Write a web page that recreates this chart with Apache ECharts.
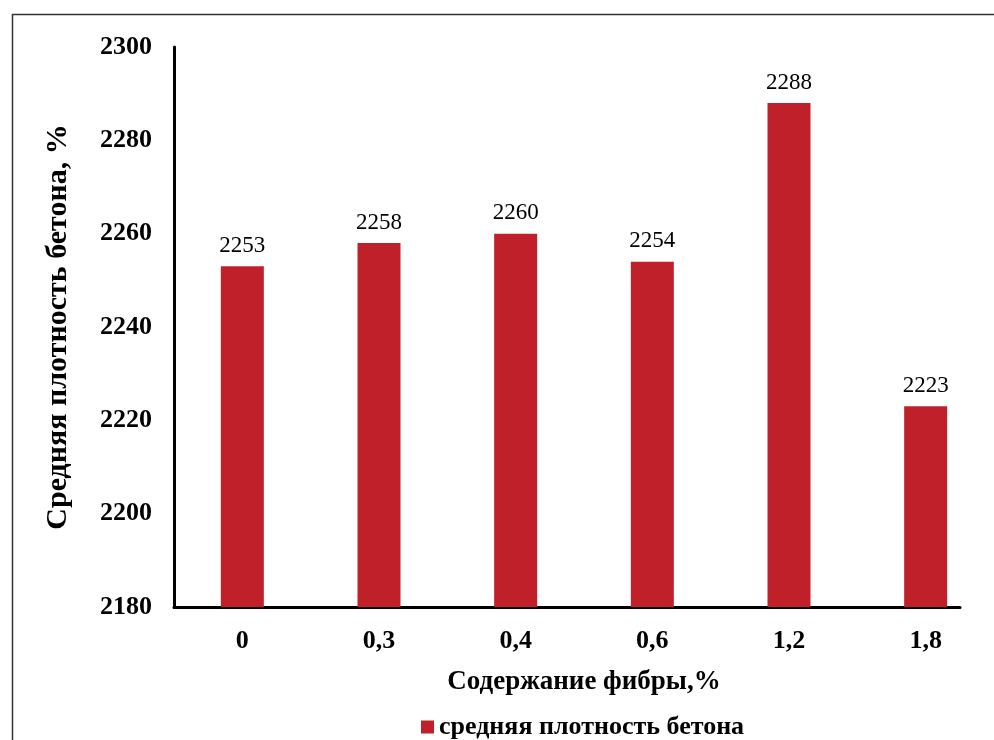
<!DOCTYPE html>
<html>
<head>
<meta charset="utf-8">
<script src="https://cdn.jsdelivr.net/npm/echarts@6/dist/echarts.min.js"></script>
<style>html,body{margin:0;padding:0;background:#fff}#c{width:994px;height:740px}</style>
</head>
<body>
<div id="c"></div>
<script>
const categories = ['0', '0,3', '0,4', '0,6', '1,2', '1,8'];
const density = [2253, 2258, 2260, 2254, 2288, 2223];
const seriesName = 'средняя плотность бетона';
const xTitle = 'Содержание фибры,%';
const yTitle = 'Средняя плотность бетона, %';
const yMin = 2180, yMax = 2300, yStep = 20;

const serif = '"Liberation Serif", "Times New Roman", serif';
const chart = echarts.init(document.getElementById('c'));
chart.setOption({
  backgroundColor: '#fff',
  animation: false,
  grid: [
    { left: 174, top: 47, width: 828, bottom: 133 },
    { left: 174, top: 47, width: 786, bottom: 133 }
  ],
  xAxis: [
    {
      type: 'category', gridIndex: 0, data: categories,
      axisLine: { show: false }, axisTick: { show: false },
      axisLabel: { color: '#000', fontFamily: serif, fontWeight: 'bold', fontSize: 26, margin: 21 }
    },
    {
      type: 'value', gridIndex: 1, min: 0, max: 1,
      axisLine: { show: true, lineStyle: { color: '#000', width: 3 } },
      axisTick: { show: false }, axisLabel: { show: false }, splitLine: { show: false }
    }
  ],
  yAxis: [
    {
      type: 'value', gridIndex: 0, min: yMin, max: yMax, interval: yStep,
      axisLine: { show: true, lineStyle: { color: '#000', width: 3 } },
      axisTick: { show: false }, splitLine: { show: false },
      axisLabel: { color: '#000', fontFamily: serif, fontWeight: 'bold', fontSize: 26, margin: 22,
        formatter: function (v) { return String(v); } }
    },
    {
      type: 'value', gridIndex: 1, min: 0, max: 1, show: false
    }
  ],
  legend: {
    left: 416, top: 709, icon: 'rect', itemWidth: 13, itemHeight: 13,
    textStyle: { color: '#000', fontFamily: serif, fontWeight: 'bold', fontSize: 26 },
    data: [seriesName]
  },
  graphic: [
    { type: 'rect', left: 10, top: 12, shape: { width: 1000, height: 1000 }, style: { fill: 'none', stroke: '#333', lineWidth: 1.5 }, silent: true },
    { type: 'text', x: 584, y: 682, style: { text: xTitle, fill: '#000', font: 'bold 27px ' + serif, textAlign: 'center', textVerticalAlign: 'middle' } },
    { type: 'text', x: 58, y: 327, rotation: Math.PI / 2, style: { text: yTitle, fill: '#000', font: 'bold 30px ' + serif, textAlign: 'center', textVerticalAlign: 'middle' } }
  ],
  series: [{
    name: seriesName, type: 'bar', xAxisIndex: 0, yAxisIndex: 0,
    data: density, barWidth: 43,
    itemStyle: { color: '#C0202A' },
    label: { show: true, position: 'top', distance: 9, color: '#000', fontFamily: serif, fontSize: 23 }
  }]
});
</script>
</body>
</html>
